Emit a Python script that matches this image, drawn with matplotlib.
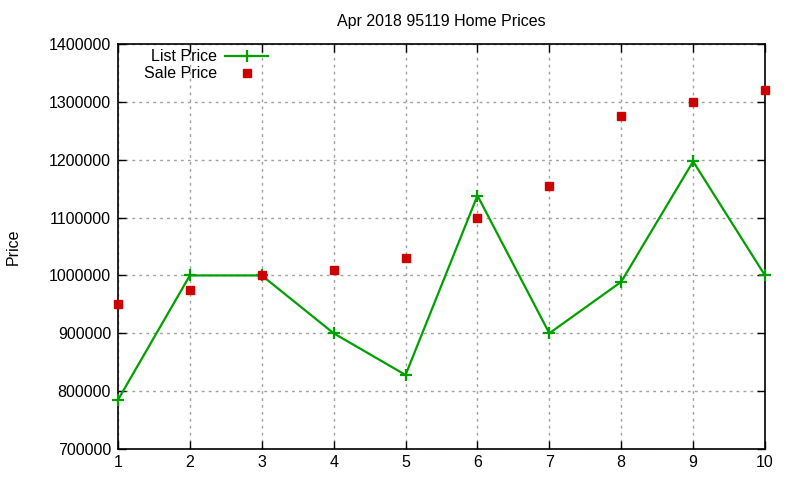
import matplotlib
matplotlib.use("Agg")
import matplotlib.pyplot as plt

x = [1, 2, 3, 4, 5, 6, 7, 8, 9, 10]
list_price = [785000, 1000000, 1000000, 900000, 828000, 1138000, 900000, 989000, 1197000, 1000000]
sale_price = [950000, 975000, 1000000, 1010000, 1030000, 1100000, 1155000, 1275000, 1300000, 1320000]
yticks = [700000, 800000, 900000, 1000000, 1100000, 1200000, 1300000, 1400000]

plt.rcParams['font.family'] = ['Liberation Sans', 'DejaVu Sans']
fs = 11.5

fig = plt.figure(figsize=(8, 4.8), dpi=100)
ax = fig.add_axes([118/800, 1-449/480, (765-118)/800, (449-44)/480])

l1, = ax.plot(x, list_price, color='#00a000', lw=1.6, marker='+', ms=8, mew=1.6, label='List Price',
              clip_on=False, zorder=3)
l2, = ax.plot(x, sale_price, ls='none', color='#cc0000', marker='s', ms=6, label='Sale Price',
              clip_on=False, zorder=4)

ax.set_xlim(1, 10)
ax.set_ylim(700000, 1400000)
ax.set_xticks(x)
ax.set_yticks(yticks)
ax.set_yticklabels([str(v) for v in yticks])
ax.tick_params(direction='in', length=6, width=1, top=True, right=True, labelsize=fs, pad=5)
ax.tick_params(axis='x', pad=4)
ax.grid(True, color='#a0a0a0', ls=(0, (2, 3)), lw=1)
for s in ax.spines.values():
    s.set_linewidth(1.2)

ax.set_title('Apr 2018 95119 Home Prices', fontsize=fs, pad=13)
ax.set_ylabel('Price', fontsize=fs, labelpad=20)

leg1 = ax.legend(handles=[l1], loc='center right', bbox_to_anchor=(0.232, 0.968), frameon=False,
                 markerfirst=False, fontsize=fs, borderpad=0, borderaxespad=0, handlelength=2.7, handletextpad=0.5)
ax.add_artist(leg1)
leg2 = ax.legend(handles=[l2], loc='center right', bbox_to_anchor=(0.232, 0.926), frameon=False,
                 markerfirst=False, fontsize=fs, borderpad=0, borderaxespad=0, handlelength=2.7, handletextpad=0.5)

fig.savefig('out.png', dpi=100)
